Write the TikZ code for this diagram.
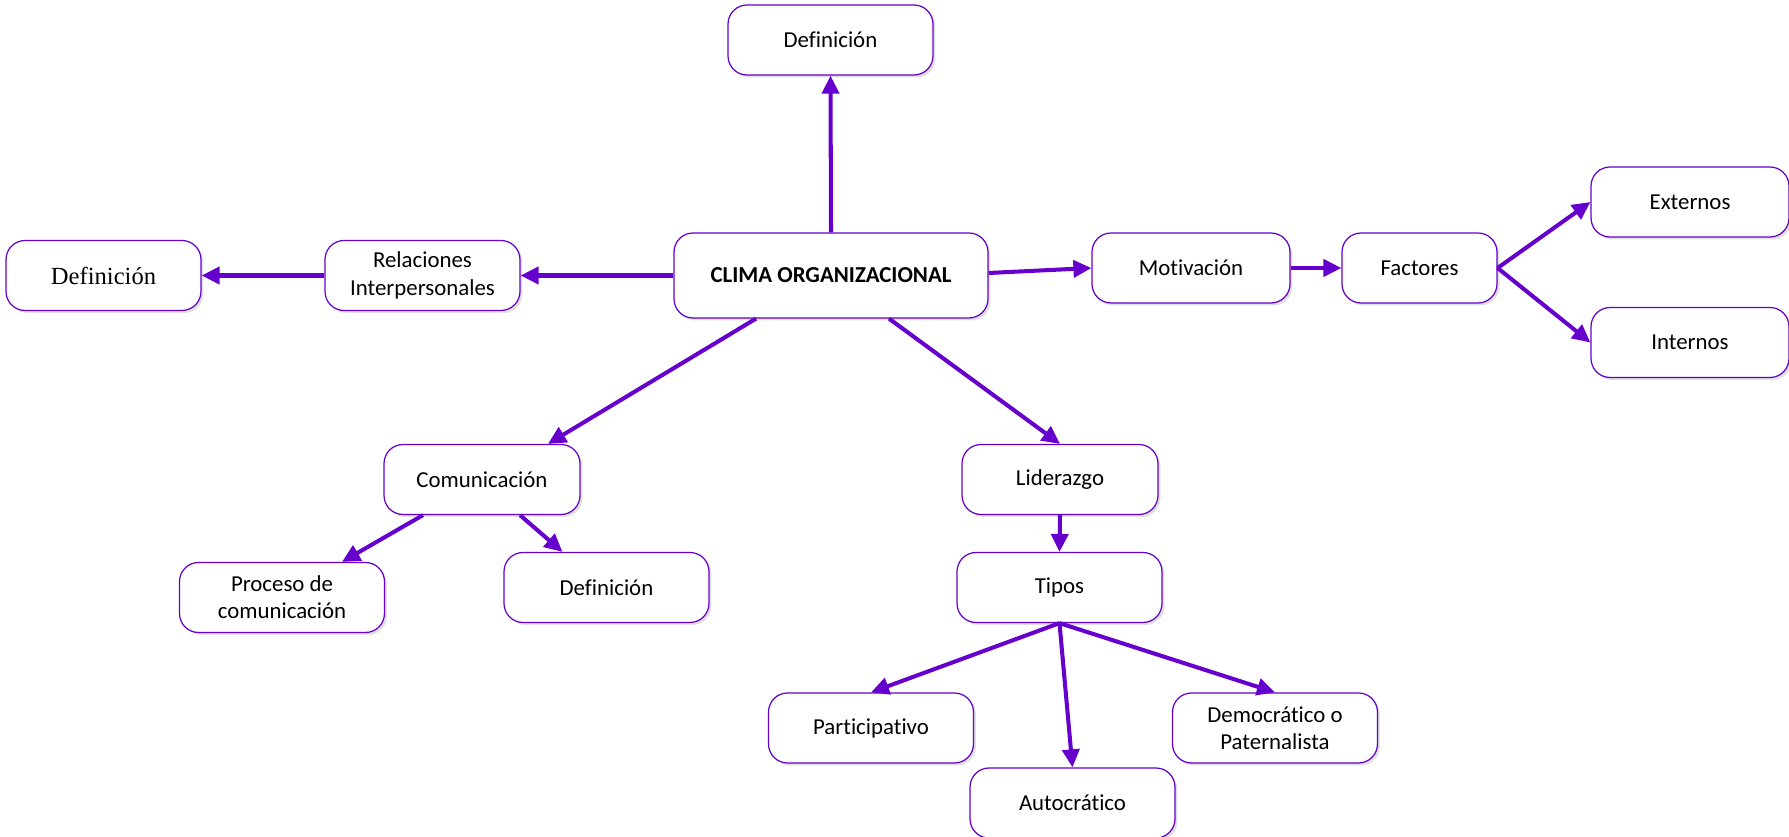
\documentclass[tikz,border=0pt]{standalone}
\usepackage{fontspec}
\setmainfont{Carlito}[Ligatures=NoCommon]
\newfontfamily\timesfont{Liberation Serif}
\usetikzlibrary{arrows.meta,positioning,shadows}

\definecolor{violeta}{RGB}{102,0,204}

\begin{document}
\begin{tikzpicture}[
    x=0.02cm, y=-0.02cm,
    box/.style={draw=violeta, line width=0.7pt, rounded corners=0.38cm, fill=white,
        minimum width=4.1cm, minimum height=1.4cm, align=center, inner sep=2pt,
        font=\fontsize{13}{15.5}\selectfont,
        drop shadow={shadow xshift=0.05cm, shadow yshift=-0.05cm, opacity=0.12, fill=black}},
    main/.style={box, minimum width=6.28cm, minimum height=1.7cm, font=\fontsize{13}{15.5}\selectfont\bfseries},
    edge/.style={-{Triangle[length=0.36cm, width=0.34cm]}, line width=2.3pt, draw=violeta},
]

\useasboundingbox (0,0) rectangle (1789,837);

% Centre
\node[main] (clima) at (831, 275.5) {CLIMA ORGANIZACIONAL};

% Top and left branch
\node[box] (defsup) at (830.5, 40) {Definición};
\node[box, minimum width=3.9cm] (relac) at (422.5, 275.5) {Relaciones\\Interpersonales};
\node[box, minimum width=3.9cm, font=\fontsize{14}{16}\timesfont] (defrel) at (103.5, 275.5) {Definición};

% Right branch
\node[box, minimum width=3.96cm] (motiv) at (1191, 268) {Motivación};
\node[box, minimum width=3.1cm] (fact) at (1419.5, 268) {Factores};
\node[box, minimum width=3.96cm] (ext) at (1690, 202) {Externos};
\node[box, minimum width=3.96cm] (int) at (1690, 342.5) {Internos};

% Comunicacion
\node[box, minimum width=3.92cm] (comun) at (482, 479.5) {Comunicación};
\node[box] (proceso) at (282, 597.5) {Proceso de\\comunicación};
\node[box] (defcom) at (606.5, 587.5) {Definición};

% Liderazgo
\node[box, minimum width=3.92cm] (lider) at (1060, 479.5) {Liderazgo};
\node[box] (tipos) at (1059.5, 587.5) {Tipos};
\node[box] (partic) at (871, 728) {Participativo};
\node[box] (autoc) at (1072.5, 803) {Autocrático};
\node[box] (democ) at (1275, 728) {Democrático o\\Paternalista};

% Edges
\draw[edge] (clima.north) -- (defsup.south);
\draw[edge] (clima.west) -- (relac.east);
\draw[edge] (relac.west) -- (defrel.east);
\draw[edge] ([yshift=0.05cm]clima.east) -- (motiv.west);
\draw[edge] (motiv.east) -- (fact.west);
\draw[edge] (fact.east) -- (ext.west);
\draw[edge] (fact.east) -- (int.west);
\draw[edge] ([xshift=-1.5cm]clima.south) -- ([xshift=1.32cm]comun.north);
\draw[edge] ([xshift=1.16cm]clima.south) -- (lider.north);
\draw[edge] ([xshift=-1.18cm]comun.south) -- ([xshift=1.2cm]proceso.north);
\draw[edge] ([xshift=0.76cm]comun.south) -- ([xshift=-0.88cm]defcom.north);
\draw[edge] (lider.south) -- (tipos.north);
\draw[edge] (tipos.south) -- (partic.north);
\draw[edge] (tipos.south) -- (autoc.north);
\draw[edge] (tipos.south) -- (democ.north);

\end{tikzpicture}
\end{document}
